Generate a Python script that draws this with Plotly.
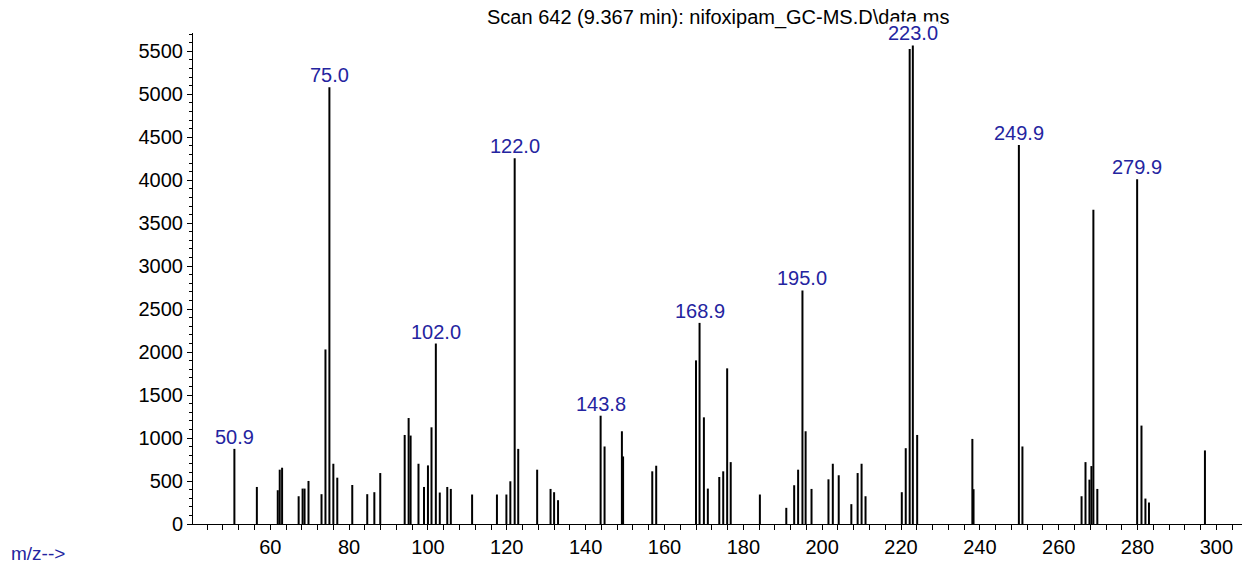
import plotly.graph_objects as go

# ---- data ----
mz = [50.9, 56.6, 61.9, 62.4, 63.0, 67.2, 68.2, 68.7, 69.7, 73.0, 74.0, 75.0, 76.0, 77.0,
      80.8, 84.6, 86.4, 87.9, 94.1, 95.1, 95.6, 97.6, 99.0, 100.0, 100.9, 102.0, 103.0,
      104.9, 105.8, 111.2, 117.5, 119.9, 120.9, 122.0, 122.9, 127.7, 131.1, 132.0, 133.0,
      143.8, 144.8, 149.2, 149.5, 156.9, 157.9, 168.0, 168.9, 170.0, 171.0, 173.9, 174.9,
      175.9, 176.8, 184.2, 190.9, 192.9, 193.9, 195.0, 195.8, 197.3, 201.6, 202.7, 204.2,
      207.4, 209.0, 210.0, 211.0, 220.2, 221.2, 222.2, 223.0, 224.1, 238.1, 238.4, 249.9,
      250.8, 265.8, 266.8, 267.8, 268.3, 268.8, 269.8, 279.9, 281.0, 282.0, 282.9, 297.1]
abundance = [874, 431, 393, 632, 655, 323, 412, 412, 501, 347, 2031, 5083, 701, 539,
             454, 347, 370, 593, 1036, 1233, 1029, 701, 431, 682, 1125, 2100, 366,
             431, 408, 343, 343, 343, 497, 4255, 874, 632, 408, 370, 277,
             1260, 902, 1079, 786, 613, 678, 1904, 2340, 1241, 412, 547, 613,
             1811, 720, 343, 188, 451, 632, 2717, 1079, 408, 520, 701, 567,
             231, 593, 701, 323, 370, 882, 5526, 5568, 1036, 990, 405, 4410,
             902, 323, 720, 516, 674, 3656, 408, 4011, 1145, 296, 250, 856]

label_mz = [50.9, 75.0, 102.0, 122.0, 143.8, 168.9, 195.0, 223.0, 249.9, 279.9]
label_text = ["50.9", "75.0", "102.0", "122.0", "143.8", "168.9", "195.0", "223.0", "249.9", "279.9"]

title_text = "Scan 642 (9.367 min): nifoxipam_GC-MS.D\\data.ms"
x_label = "m/z-->"

# ---- build stick traces from the data ----
xs, ys = [], []
for m, a in zip(mz, abundance):
    xs += [m, m, None]
    ys += [0, a, None]

FONT = "Liberation Sans, Arial, sans-serif"
BLUE = "#2424a0"

fig = go.Figure()
fig.add_trace(go.Scatter(x=xs, y=ys, mode="lines",
                         line=dict(color="black", width=2),
                         hoverinfo="skip", showlegend=False))

annotations = [
    dict(text=title_text, xref="paper", yref="paper", x=0.5, y=1, yshift=16,
         xanchor="center", yanchor="middle", showarrow=False,
         font=dict(family=FONT, size=20, color="black")),
    dict(text=x_label, xref="paper", yref="paper", x=-0.1745, y=0, yshift=-29,
         xanchor="left", yanchor="middle", showarrow=False, borderpad=0,
         font=dict(family=FONT, size=19, color=BLUE)),
]
lookup = dict(zip(mz, abundance))
for m, t in zip(label_mz, label_text):
    annotations.append(dict(
        text=t, x=m, y=lookup[m], xref="x", yref="y",
        xanchor="center", yanchor="bottom", showarrow=False, yshift=0,
        borderpad=0, bgcolor="white" if t == "223.0" else None,
        font=dict(family=FONT, size=20, color=BLUE)))

fig.update_layout(
    width=1249, height=565,
    margin=dict(l=193, r=7, t=33, b=38),
    paper_bgcolor="white", plot_bgcolor="white",
    font=dict(family=FONT, size=20, color="black"),
    annotations=annotations,
    showlegend=False,
)
fig.update_xaxes(range=[40.4, 306.5], tick0=0, dtick=20, ticks="outside", ticklen=5,
                 tickwidth=1, tickcolor="black", showline=True, linecolor="black",
                 linewidth=1, showgrid=False, zeroline=False,
                 minor=dict(dtick=4, tick0=0, ticks="outside", ticklen=5, tickcolor="black"),
                 tickfont=dict(family=FONT, size=20, color="black"))
fig.update_yaxes(range=[0, 5713], tick0=0, dtick=500, ticks="outside", ticklen=5,
                 tickwidth=1, tickcolor="black", showline=True, linecolor="black",
                 linewidth=1, showgrid=False, zeroline=False,
                 minor=dict(dtick=100, tick0=0, ticks="outside", ticklen=3, tickcolor="black"),
                 tickfont=dict(family=FONT, size=20, color="black"))

fig.write_html("out.html", config={"displayModeBar": False},
               post_script="document.body.style.margin='0';document.body.style.overflow='hidden';")
